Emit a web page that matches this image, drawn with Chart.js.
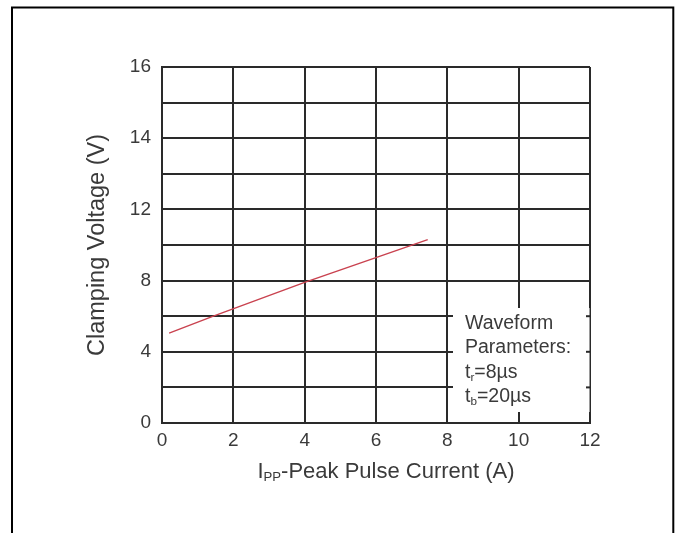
<!DOCTYPE html>
<html>
<head>
<meta charset="utf-8">
<script src="https://cdn.jsdelivr.net/npm/chart.js@4.4.0/dist/chart.umd.min.js"></script>
<style>
html, body { margin: 0; padding: 0; background: #fff; }
#wrap { width: 680px; height: 533px; }
</style>
</head>
<body>
<div id="wrap"><canvas id="myChart" width="680" height="533"></canvas></div>
<script>
// red curve: Ipp (A) vs clamping voltage (V)
var currentA = [0.2, 1.44, 4.0, 7.45];
var clampV = [5.05, 6.0, 7.9, 10.3];
// y rows are evenly spaced in the picture but labelled 0,4,8,12,14,16
var yRowValues = [0, 2, 4, 6, 8, 10, 12, 13, 14, 15, 16];
var yRowLabels = ['0', '', '4', '', '8', '', '12', '', '14', '', '16'];
var xTitleParts = [['I', false], ['PP', true], ['-Peak Pulse Current (A)', false]];
var boxLines = [
    [['Waveform', false]],
    [['Parameters:', false]],
    [['t', false], ['r', true], ['=8µs', false]],
    [['t', false], ['b', true], ['=20µs', false]]
];

var FONT = '"Liberation Sans", Arial, sans-serif';
var TXT = '#3a3a3a';
var GRID = '#2a2a2a';

// volts -> row position on the (uneven) y axis
function toRow(v) {
    for (var i = 1; i < yRowValues.length; i++) {
        if (v <= yRowValues[i]) {
            var a = yRowValues[i - 1], b = yRowValues[i];
            return (i - 1) + (v - a) / (b - a);
        }
    }
    return yRowValues.length - 1;
}

// draw text with subscripts, centred or left aligned
function drawRich(ctx, parts, x, y, size, align) {
    var total = 0;
    parts.forEach(function(p) {
        ctx.font = (p[1] ? size * 0.6 : size) + 'px ' + FONT;
        total += ctx.measureText(p[0]).width;
    });
    var cx = align == 'center' ? x - total / 2 : x;
    ctx.textAlign = 'left';
    ctx.textBaseline = 'alphabetic';
    parts.forEach(function(p) {
        ctx.font = (p[1] ? size * 0.6 : size) + 'px ' + FONT;
        ctx.fillText(p[0], cx, p[1] ? y + size * 0.15 : y);
        cx += ctx.measureText(p[0]).width;
    });
}

const framePlugin = {
    id: 'frame',
    beforeDraw(chart) {
        const ctx = chart.ctx;
        ctx.save();
        ctx.fillStyle = '#fff';
        ctx.fillRect(0, 0, chart.width, chart.height);
        ctx.strokeStyle = '#000';
        ctx.lineWidth = 2;
        ctx.beginPath();
        ctx.moveTo(12, 540);
        ctx.lineTo(12, 7.5);
        ctx.lineTo(673.3, 7.5);
        ctx.lineTo(673.3, 540);
        ctx.stroke();
        ctx.restore();
    },
    afterDraw(chart) {
        const ctx = chart.ctx;
        const a = chart.chartArea;
        const ys = chart.scales.y;
        ctx.save();
        // white parameter box over the grid
        ctx.fillStyle = '#fff';
        ctx.fillRect(a.right - 137, a.bottom - 115, 136, 104);
        ctx.strokeStyle = '#9a9a9a';
        ctx.lineWidth = 1;
        ctx.beginPath();
        ctx.moveTo(a.right - 0.5, a.bottom - 115);
        ctx.lineTo(a.right - 0.5, a.bottom - 11);
        ctx.stroke();
        ctx.strokeStyle = GRID;
        ctx.lineWidth = 2;
        [1, 2, 3].forEach(function(r) {
            const py = ys.getPixelForValue(r);
            ctx.beginPath();
            ctx.moveTo(a.right - 4, py);
            ctx.lineTo(a.right, py);
            ctx.stroke();
        });
        ctx.fillStyle = TXT;
        boxLines.forEach(function(line, i) {
            drawRich(ctx, line, a.right - 125, a.bottom - 94 + i * 24.3, 19.5, 'left');
        });
        // x axis title with subscript
        drawRich(ctx, xTitleParts, (a.left + a.right) / 2 + 10, 478, 22, 'center');
        ctx.restore();
    }
};

var myChart = new Chart(document.getElementById('myChart'), {
    type: 'scatter',
    data: {
        datasets: [{
            label: 'Clamping Voltage',
            data: currentA.map(function(x, i) { return { x: x, y: toRow(clampV[i]) }; }),
            showLine: true,
            borderColor: '#c9424f',
            borderWidth: 1.4,
            pointRadius: 0,
            tension: 0
        }]
    },
    options: {
        responsive: false,
        animation: false,
        layout: { padding: { left: 83, top: 67, right: 90, bottom: 70 } },
        plugins: { legend: { display: false }, tooltip: { enabled: false } },
        scales: {
            x: {
                type: 'linear',
                min: 0,
                max: 12,
                afterFit: function(s) { s.height = 40; },
                grid: { color: GRID, lineWidth: 2, drawTicks: false },
                border: { color: GRID, width: 2 },
                ticks: {
                    stepSize: 2,
                    padding: 6,
                    color: TXT,
                    font: { family: FONT, size: 19 }
                }
            },
            y: {
                type: 'linear',
                min: 0,
                max: 10,
                afterFit: function(s) { s.width = 79; },
                grid: { color: GRID, lineWidth: 2, drawTicks: false },
                border: { color: GRID, width: 2 },
                ticks: {
                    stepSize: 1,
                    autoSkip: false,
                    padding: 11,
                    color: TXT,
                    font: { family: FONT, size: 19 },
                    callback: function(v) { return yRowLabels[v]; }
                },
                title: {
                    display: true,
                    text: 'Clamping Voltage (V)',
                    color: TXT,
                    padding: { top: 0, bottom: 0 },
                    font: { family: FONT, size: 23.5 }
                }
            }
        }
    },
    plugins: [framePlugin]
});
</script>
</body>
</html>
